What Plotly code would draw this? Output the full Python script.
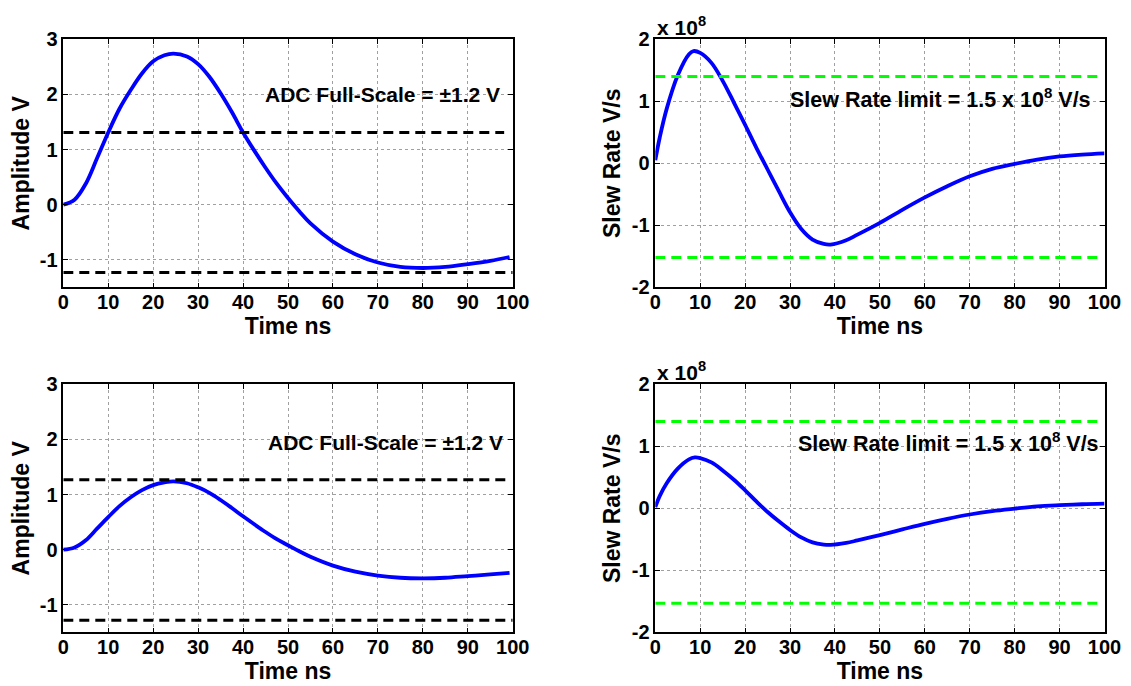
import plotly.graph_objects as go
from plotly.subplots import make_subplots

# ---------------- data ----------------
# Top-left: amplitude (V) vs time (ns)
t_amp_top = [0, 2.5, 5, 7.5, 10, 12.5, 15, 17.5, 20, 22.5, 24.5, 27.5, 30, 32.5, 35, 37.5,
             40, 42.5, 45, 47.5, 50, 52.5, 55, 60, 65, 70, 75, 80, 85, 90, 95, 99.3]
amp_top = [0, 0.09, 0.38, 0.84, 1.31, 1.74, 2.08, 2.38, 2.60, 2.71, 2.74, 2.69, 2.55, 2.32, 2.02, 1.68,
           1.31, 0.98, 0.67, 0.38, 0.12, -0.12, -0.34, -0.67, -0.90, -1.05, -1.13, -1.15, -1.13, -1.08, -1.02, -0.95]

# Top-right: slew rate (x1e8 V/s)
t_slew_top = [0, 1, 2.5, 5, 7.5, 8.5, 10, 12.5, 15, 17.5, 20, 22.5, 25, 27.5, 30, 32.5, 35, 37.5, 39,
              42.5, 45, 50, 55, 60, 65, 70, 75, 80, 85, 90, 95, 100]
slew_top = [0.05, 0.42, 0.87, 1.42, 1.76, 1.81, 1.78, 1.62, 1.33, 0.98, 0.62, 0.25, -0.10, -0.45, -0.79,
            -1.06, -1.23, -1.30, -1.31, -1.24, -1.15, -0.96, -0.75, -0.55, -0.37, -0.21, -0.09, -0.01,
            0.06, 0.11, 0.14, 0.16]

# Bottom-left: amplitude (V)
t_amp_bot = [0, 2.5, 5, 7.5, 10, 12.5, 15, 17.5, 20, 22.5, 24.5, 27.5, 30, 32.5, 35, 37.5, 40, 42.5,
             45, 47.5, 50, 52.5, 55, 60, 65, 70, 75, 80, 85, 90, 95, 99.3]
amp_bot = [0, 0.04, 0.17, 0.38, 0.59, 0.79, 0.95, 1.08, 1.17, 1.22, 1.24, 1.205, 1.13, 1.03, 0.90, 0.755,
           0.605, 0.46, 0.32, 0.19, 0.08, -0.03, -0.13, -0.29, -0.40, -0.47, -0.51, -0.52, -0.51, -0.48,
           -0.45, -0.42]

# Bottom-right: slew rate (x1e8 V/s)
t_slew_bot = [0, 1, 2.5, 5, 7.5, 8.8, 10, 12.5, 15, 17.5, 20, 22.5, 25, 27.5, 30, 32.5, 35, 37.5, 39,
              42.5, 45, 50, 55, 60, 65, 70, 75, 80, 85, 90, 95, 100]
slew_bot = [0.02, 0.20, 0.40, 0.64, 0.79, 0.82, 0.81, 0.74, 0.61, 0.46, 0.29, 0.11, -0.06, -0.21, -0.35,
            -0.47, -0.55, -0.585, -0.59, -0.558, -0.518, -0.432, -0.34, -0.25, -0.17, -0.10, -0.045, -0.005,
            0.03, 0.05, 0.065, 0.075]

# Reference (dashed) levels: [level, x_end]
adc_top = [[1.31, 98.1], [-1.23, 100.0]]
adc_bot = [[1.27, 98.6], [-1.28, 100.0]]
slew_lim_top = [[1.40, 98.6], [-1.52, 98.6]]
slew_lim_bot = [[1.40, 98.6], [-1.53, 98.6]]

x_ticks = [0, 10, 20, 30, 40, 50, 60, 70, 80, 90, 100]
amp_ticks = [-1, 0, 1, 2, 3]
amp_tick_text = ["-1", "0", "1", "2", "3"]
slew_ticks = [-2, -1, 0, 1, 2]
slew_tick_text = ["-2", "-1", "0", "1", "2"]

adc_label = "ADC Full-Scale = \u00b11.2 V"
slew_label = "Slew Rate limit = 1.5 x 10<sup>8</sup> V/s"
exp_label = "x 10<sup>8</sup>"

# ---------------- figure ----------------
FONT = "Liberation Sans, Arial, Helvetica, sans-serif"
W, H = 1131, 686
OFF = 8  # page body margin offset (px)

fig = make_subplots(rows=2, cols=2)

blue = dict(color="#0000ff", width=3.8, shape="spline", smoothing=1.0)


def add_levels(levels, color, row, col):
    for lvl, xend in levels:
        fig.add_trace(go.Scatter(x=[0, xend], y=[lvl, lvl], mode="lines",
                                 line=dict(color=color, width=3, dash="10px,6px"),
                                 hoverinfo="skip"), row=row, col=col)


fig.add_trace(go.Scatter(x=t_amp_top, y=amp_top, mode="lines", line=blue), row=1, col=1)
add_levels(adc_top, "black", 1, 1)
fig.add_trace(go.Scatter(x=t_slew_top, y=slew_top, mode="lines", line=blue), row=1, col=2)
add_levels(slew_lim_top, "#00ff00", 1, 2)
fig.add_trace(go.Scatter(x=t_amp_bot, y=amp_bot, mode="lines", line=blue), row=2, col=1)
add_levels(adc_bot, "black", 2, 1)
fig.add_trace(go.Scatter(x=t_slew_bot, y=slew_bot, mode="lines", line=blue), row=2, col=2)
add_levels(slew_lim_bot, "#00ff00", 2, 2)

tickfont = dict(family=FONT, size=20, color="black", weight="bold")
titlefont = dict(family=FONT, size=23, color="black", weight="bold")

common = dict(showline=True, linecolor="black", linewidth=1.5, mirror="ticks",
              ticks="inside", ticklen=5, tickwidth=1.2, tickcolor="black",
              showgrid=True, gridcolor="#a0a0a0", griddash="dot", gridwidth=1,
              zeroline=False, tickfont=tickfont, automargin=False)


def xd(a, b):
    return [(a - OFF) / W, (b - OFF) / W]


def yd(top, bottom):
    return [1 - (bottom - OFF) / H, 1 - (top - OFF) / H]


xdom_l = xd(63.3, 512.7)
xdom_r = xd(655.3, 1104.5)
ydom_t = yd(39.3, 287.3)
ydom_b = yd(384.3, 632.3)

xa = dict(common, range=[0, 100], tickvals=x_ticks, ticktext=[str(v) for v in x_ticks],
          ticklabelstandoff=-4,
          title=dict(text="Time ns", font=titlefont, standoff=4))
ya_amp = dict(common, range=[-1.5, 3], tickvals=amp_ticks, ticktext=amp_tick_text,
              title=dict(text="Amplitude V", font=titlefont, standoff=5))
ya_slew = dict(common, range=[-2, 2], tickvals=slew_ticks, ticktext=slew_tick_text,
               title=dict(text="Slew Rate V/s", font=titlefont, standoff=5))

fig.update_layout(
    width=W, height=H,
    margin=dict(l=0, r=0, t=0, b=0, autoexpand=False),
    paper_bgcolor="white", plot_bgcolor="white",
    showlegend=False,
    font=dict(family=FONT, color="black"),
    xaxis=dict(xa, domain=xdom_l, anchor="y"),
    yaxis=dict(ya_amp, domain=ydom_t, anchor="x"),
    xaxis2=dict(xa, domain=xdom_r, anchor="y2"),
    yaxis2=dict(ya_slew, domain=ydom_t, anchor="x2"),
    xaxis3=dict(xa, domain=xdom_l, anchor="y3"),
    yaxis3=dict(ya_amp, domain=ydom_b, anchor="x3"),
    xaxis4=dict(xa, domain=xdom_r, anchor="y4"),
    yaxis4=dict(ya_slew, domain=ydom_b, anchor="x4"),
)

annfont = dict(family=FONT, size=21, color="black", weight="bold")
fig.add_annotation(x=97.6, y=2.0, xref="x", yref="y", text=adc_label, showarrow=False,
                   xanchor="right", yanchor="middle", font=annfont)
fig.add_annotation(x=98.3, y=1.95, xref="x3", yref="y3", text=adc_label, showarrow=False,
                   xanchor="right", yanchor="middle", font=annfont)
fig.add_annotation(x=97.5, y=1.05, xref="x2", yref="y2", text=slew_label, showarrow=False,
                   xanchor="right", yanchor="middle", font=dict(annfont, size=21.5))
fig.add_annotation(x=99.2, y=1.07, xref="x4", yref="y4", text=slew_label, showarrow=False,
                   xanchor="right", yanchor="middle", font=dict(annfont, size=21.5))
for xr, yr in (("x2", "y2"), ("x4", "y4")):
    fig.add_annotation(x=0, y=1, xref=f"{xr} domain", yref=f"{yr} domain", text=exp_label,
                       showarrow=False, xanchor="left", yanchor="bottom", yshift=-2, font=annfont)

fig.write_html("out.html")
